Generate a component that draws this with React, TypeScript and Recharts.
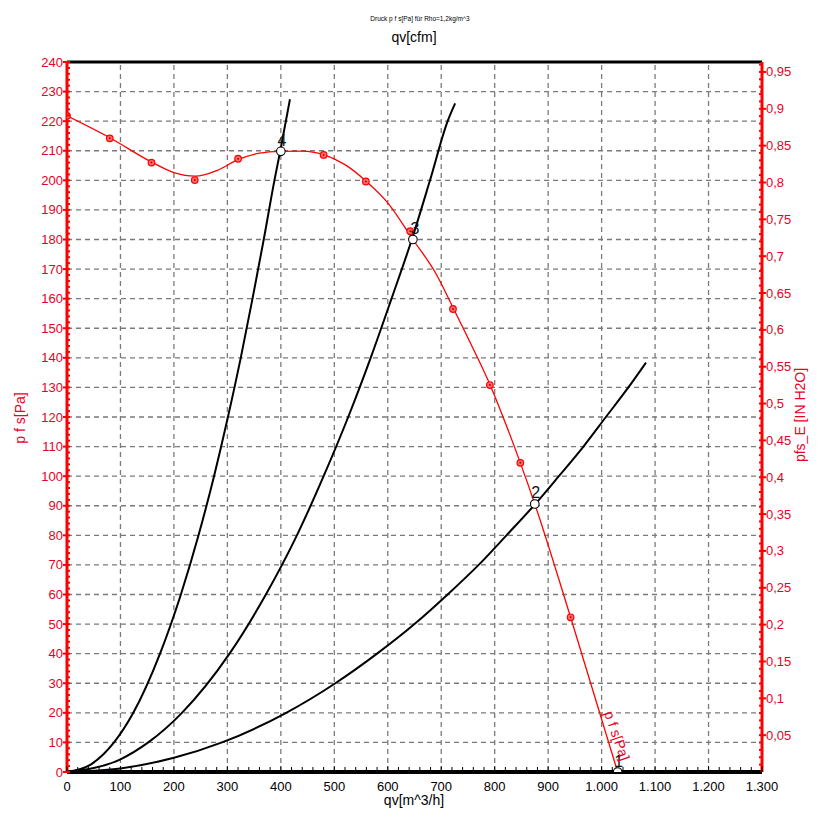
import React from 'react';
import { ComposedChart, Line, XAxis, YAxis, ReferenceLine } from 'recharts';

const W = 829;
const H = 838;
const RED = '#ff0000';
const RED_TEXT = '#e8001e';
const FONT = 'Liberation Sans, Arial, sans-serif';

// ---- tick labels / axis values ----
const qvMajor = [0, 100, 200, 300, 400, 500, 600, 700, 800, 900, 1000, 1100, 1200, 1300];
const cfmMajor = [0, 100, 200, 300, 400, 500, 600, 700];
const paMajor = [0, 10, 20, 30, 40, 50, 60, 70, 80, 90, 100, 110, 120, 130, 140, 150, 160, 170, 180, 190, 200, 210, 220, 230, 240];
const inMajor = [0.05, 0.1, 0.15, 0.2, 0.25, 0.3, 0.35, 0.4, 0.45, 0.5, 0.55, 0.6, 0.65, 0.7, 0.75, 0.8, 0.85, 0.9, 0.95];
const gridQ = [100, 200, 300, 400, 500, 600, 700, 800, 900, 1000, 1100, 1200];
const gridP = [10, 20, 30, 40, 50, 60, 70, 80, 90, 100, 110, 120, 130, 140, 150, 160, 170, 180, 190, 200, 210, 220, 230];

const QV_MAX = 1300;
const P_MAX = 240;
const CFM_PER_M3H = 1 / 1.69901;
const INH2O_PER_PA = 1 / 249.089;

// minor ticks
const qvTicks = Array.from({ length: 66 }, (_, i) => i * 20);
const cfmTicks = Array.from({ length: 31 }, (_, i) => i * 25);
const paTicks = Array.from({ length: 121 }, (_, i) => i * 2);
const inTicks = Array.from({ length: 96 }, (_, i) => (i + 1) / 100);

// ---- fan curve (red) ----
const fanQ = [0, 80, 158, 200, 240, 280, 320, 360, 400, 440, 480, 520, 559, 600, 647, 690, 722, 760, 791, 820, 848, 875, 942, 1030];
const fanP = [221.8, 214.4, 206.2, 202.6, 201.4, 203.3, 207.0, 209.2, 209.8, 209.9, 208.7, 205.3, 199.8, 192.4, 180.0, 168.5, 157.0, 143.0, 131.0, 118.0, 104.5, 90.6, 52.3, 0];

// ---- measured points (red markers) ----
const measQ = [0, 80, 158, 239, 320, 480, 559, 642, 722, 791, 848, 942];
const measP = [221.8, 214.2, 206.0, 200.1, 207.3, 208.6, 199.6, 182.8, 156.5, 130.8, 104.5, 52.3];

// ---- system curves (black) ----
const sys4Q = [0, 45, 88, 124, 174, 213, 246, 275, 301, 325, 347, 368, 388, 399, 417];
const sys4P = [0, 2.6, 10, 20, 40, 60, 80, 100, 120, 140, 160, 180, 200, 210, 227.4];
const sys3Q = [0, 100, 152, 215, 304, 372, 430, 480, 526, 568, 607, 645, 679, 712, 726];
const sys3P = [0, 4.3, 10, 20, 40, 60, 80, 100, 120, 140, 160, 180, 200, 220, 226];
const sys2Q = [0, 100, 200, 290, 410, 502, 580, 650, 712, 770, 822, 873, 920, 966, 1008, 1050, 1083];
const sys2P = [0, 1.2, 4.8, 10, 20, 30, 40, 50, 60, 70, 80, 90, 100, 110, 120, 130, 138.4];

// ---- operating points ----
const opLabels = ['4', '3', '2', '1'];
const opQ = [400, 647, 875, 1030];
const opP = [209.8, 180.0, 90.6, 0];

const zip = (qs: number[], ps: number[]) => qs.map((q, i) => ({ q, p: ps[i] }));
const fanData = zip(fanQ, fanP);
const measData = zip(measQ, measP);
const sys4Data = zip(sys4Q, sys4P);
const sys3Data = zip(sys3Q, sys3P);
const sys2Data = zip(sys2Q, sys2P);
const opData = opQ.map((q, i) => ({ q, p: opP[i], label: opLabels[i] }));

const fmtQv = (v: number) =>
  v >= 1000 ? `${Math.floor(v / 1000)}.${String(v % 1000).padStart(3, '0')}` : String(v);
const fmtIn = (v: number) => String(Math.round(v * 100) / 100).replace('.', ',');

const BottomTick = (props: any) => {
  const { x, y, payload } = props;
  const v = payload.value;
  const major = qvMajor.includes(v);
  return (
    <g>
      <line x1={x} x2={x} y1={y} y2={y - (major ? 6 : 5)} stroke="#000" strokeWidth={1} />
      {major && (
        <text x={x} y={y + 19} textAnchor="middle" fontSize={13} fontFamily={FONT} fill="#000">
          {fmtQv(v)}
        </text>
      )}
    </g>
  );
};

const TopTick = (props: any) => {
  const { x, y, payload } = props;
  const v = payload.value;
  const major = cfmMajor.includes(v);
  return (
    <g>
      <line x1={x} x2={x} y1={y} y2={y + (major ? 5 : 4)} stroke="#000" strokeWidth={1} />
      {major && (
        <text x={x} y={y - 10} textAnchor="middle" fontSize={13} fontFamily={FONT} fill="#000">
          {v}
        </text>
      )}
    </g>
  );
};

const LeftTick = (props: any) => {
  const { x, y, payload } = props;
  const v = payload.value;
  const major = paMajor.includes(v);
  return (
    <g>
      <line x1={major ? x - 4 : x} x2={x + 3} y1={y} y2={y} stroke={RED} strokeWidth={2} />
      {major && (
        <text x={x - 4} y={y + 4.5} textAnchor="end" fontSize={13} fontFamily={FONT} fill={RED_TEXT}>
          {v}
        </text>
      )}
    </g>
  );
};

const RightTick = (props: any) => {
  const { x, y, payload } = props;
  const v = payload.value;
  const major = inMajor.some((m) => Math.abs(m - v) < 1e-9);
  return (
    <g>
      <line x1={x - 3} x2={major ? x + 4 : x} y1={y} y2={y} stroke={RED} strokeWidth={2} />
      {major && (
        <text x={x + 4} y={y + 4.5} textAnchor="start" fontSize={13} fontFamily={FONT} fill={RED_TEXT}>
          {fmtIn(v)}
        </text>
      )}
    </g>
  );
};

const MeasDot = (props: any) => {
  const { cx, cy, index } = props;
  if (cx == null || cy == null) return <g key={`m${index}`} />;
  return (
    <g key={`m${index}`}>
      <circle cx={cx} cy={cy} r={3.3} fill="#ff7070" stroke={RED} strokeWidth={1.2} />
      <circle cx={cx} cy={cy} r={1} fill="#c00000" />
    </g>
  );
};

const OpDot = (props: any) => {
  const { cx, cy, index, payload } = props;
  if (cx == null || cy == null) return <g key={`o${index}`} />;
  const dx = payload.label === '3' ? 2 : 1;
  return (
    <g key={`o${index}`}>
      <text x={cx + dx} y={cy - 5.5} textAnchor="middle" fontSize={16} fontFamily={FONT} fill="#111">
        {payload.label}
      </text>
      <circle cx={cx} cy={cy} r={4.3} fill="#fff" stroke="#000" strokeWidth={1.1} />
    </g>
  );
};

const gridStyle = { stroke: '#7a7a7a', strokeWidth: 1.3, strokeDasharray: '5 4' };

export default function App() {
  return (
    <div style={{ position: 'absolute', left: 0, top: 0, width: W, height: H, background: '#fff' }}>
      <ComposedChart width={W} height={H} margin={{ top: 0, right: 0, bottom: 0, left: 0 }}>
        {gridQ.map((v) => (
          <ReferenceLine key={`gx${v}`} x={v} {...gridStyle} ifOverflow="visible" />
        ))}
        {gridP.map((v) => (
          <ReferenceLine key={`gy${v}`} y={v} {...gridStyle} ifOverflow="visible" />
        ))}
        <XAxis
          xAxisId={0}
          dataKey="q"
          type="number"
          orientation="bottom"
          domain={[0, QV_MAX]}
          allowDataOverflow
          ticks={qvTicks}
          interval={0}
          height={66}
          tickSize={0}
          tickMargin={0}
          tickLine={false}
          axisLine={{ stroke: '#000', strokeWidth: 4 }}
          tick={(p: any) => <BottomTick {...p} />}
        />
        <XAxis
          xAxisId="cfm"
          type="number"
          orientation="top"
          domain={[0, QV_MAX * CFM_PER_M3H]}
          allowDataOverflow
          ticks={cfmTicks}
          interval={0}
          height={62}
          tickSize={0}
          tickMargin={0}
          tickLine={false}
          axisLine={{ stroke: '#000', strokeWidth: 3 }}
          tick={(p: any) => <TopTick {...p} />}
        />
        <YAxis
          yAxisId={0}
          dataKey="p"
          type="number"
          orientation="left"
          domain={[0, P_MAX]}
          allowDataOverflow
          ticks={paTicks}
          interval={0}
          width={67}
          tickSize={0}
          tickMargin={0}
          tickLine={false}
          axisLine={{ stroke: RED, strokeWidth: 3 }}
          tick={(p: any) => <LeftTick {...p} />}
        />
        <YAxis
          yAxisId="in"
          type="number"
          orientation="right"
          domain={[0, P_MAX * INH2O_PER_PA]}
          allowDataOverflow
          ticks={inTicks}
          interval={0}
          width={67}
          tickSize={0}
          tickMargin={0}
          tickLine={false}
          axisLine={{ stroke: RED, strokeWidth: 3 }}
          tick={(p: any) => <RightTick {...p} />}
        />
        <Line data={sys4Data} dataKey="p" type="monotone" stroke="#000" strokeWidth={2} dot={false} isAnimationActive={false} />
        <Line data={sys3Data} dataKey="p" type="monotone" stroke="#000" strokeWidth={2} dot={false} isAnimationActive={false} />
        <Line data={sys2Data} dataKey="p" type="monotone" stroke="#000" strokeWidth={2} dot={false} isAnimationActive={false} />
        <Line data={fanData} dataKey="p" type="monotone" stroke={RED} strokeWidth={1.3} dot={false} isAnimationActive={false} />
        <Line data={measData} dataKey="p" stroke="none" dot={MeasDot} activeDot={false} isAnimationActive={false} />
        <Line data={opData} dataKey="p" stroke="none" dot={OpDot} activeDot={false} isAnimationActive={false} />
      </ComposedChart>
      <svg
        width={W}
        height={H}
        style={{ position: 'absolute', left: 0, top: 0, pointerEvents: 'none' }}
      >
        <text x={420} y={21} textAnchor="middle" fontSize={6.5} fontFamily={FONT} fill="#000">
          Druck p f s[Pa] für Rho=1,2kg/m^3
        </text>
        <text x={414} y={42} textAnchor="middle" fontSize={14} fontFamily={FONT} fill="#000">
          qv[cfm]
        </text>
        <text x={414} y={805} textAnchor="middle" fontSize={14} fontFamily={FONT} fill="#000">
          qv[m^3/h]
        </text>
        <text
          transform="translate(25,418) rotate(-90)"
          textAnchor="middle"
          fontSize={14}
          fontFamily={FONT}
          fill={RED_TEXT}
        >
          p f s[Pa]
        </text>
        <text
          transform="translate(805,415) rotate(-90)"
          textAnchor="middle"
          fontSize={14}
          fontFamily={FONT}
          fill={RED_TEXT}
        >
          pfs_E [IN H2O]
        </text>
        <text
          transform="translate(604,713) rotate(71)"
          textAnchor="start"
          fontSize={14}
          fontFamily={FONT}
          fill={RED_TEXT}
        >
          p f s[Pa]
        </text>
      </svg>
    </div>
  );
}
